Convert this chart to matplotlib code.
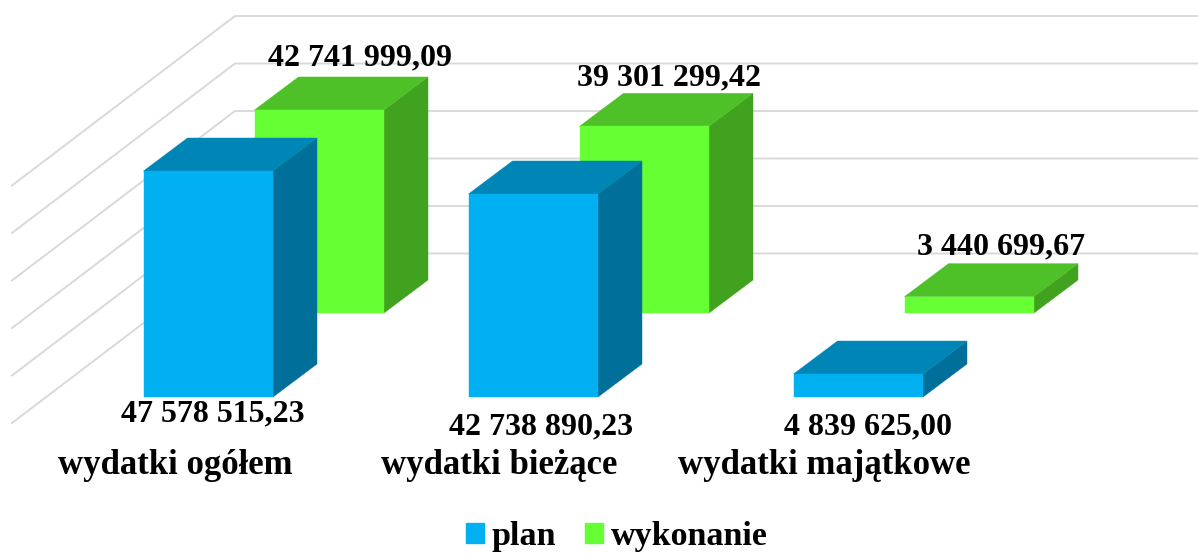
import matplotlib.pyplot as plt
from matplotlib.patches import Polygon, Patch

plt.rcParams['font.family'] = ['Liberation Serif', 'DejaVu Serif']

# dane
categories = ['wydatki ogółem', 'wydatki bieżące', 'wydatki majątkowe']
series_names = ['plan', 'wykonanie']
plan = [47578515.23, 42738890.23, 4839625.00]
wykonanie = [42741999.09, 39301299.42, 3440699.67]
plan_labels = ['47 578 515,23', '42 738 890,23', '4 839 625,00']
wykonanie_labels = ['42 741 999,09', '39 301 299,42', '3 440 699,67']
grid_values = [0, 10000000, 20000000, 30000000, 40000000, 50000000]

# pseudo 3D w pikselach
PX_PER_UNIT = 4.75 / 1e6
GROUP_STEP = 325
BAR_W = 129.5
DEPTH_X, DEPTH_Y = 44, 33


def val_y(value, base):
    return base - value * PX_PER_UNIT


def draw_bar(ax, x, value, base, front, top, side):
    y0 = base
    y1 = val_y(value, base)
    faces = [
        ([(x + BAR_W, y0), (x + BAR_W + DEPTH_X, y0 - DEPTH_Y),
          (x + BAR_W + DEPTH_X, y1 - DEPTH_Y), (x + BAR_W, y1)], side),
        ([(x, y1), (x + BAR_W, y1), (x + BAR_W + DEPTH_X, y1 - DEPTH_Y),
          (x + DEPTH_X, y1 - DEPTH_Y)], top),
        ([(x, y0), (x + BAR_W, y0), (x + BAR_W, y1), (x, y1)], front),
    ]
    for pts, color in faces:
        ax.add_patch(Polygon(pts, closed=True, facecolor=color, edgecolor=color,
                             linewidth=0.3, zorder=3))


fig = plt.figure(figsize=(11.98, 5.54), dpi=100)
ax = fig.add_axes([0, 0, 1, 1])
ax.set_xlim(0, 1198)
ax.set_ylim(554, 0)
ax.axis('off')

# siatka: sciana tylna i boczna
for g in grid_values:
    y_back = val_y(g, 253.5)
    y_left = val_y(g, 423)
    ax.plot([12, 235, 1198], [y_left, y_back, y_back], color='#D9D9D9', linewidth=1.4,
            solid_joinstyle='miter', zorder=1)

for i in range(3):
    x_green = 254.5 + i * GROUP_STEP
    draw_bar(ax, x_green, wykonanie[i], 313, '#66FF33', '#4FC128', '#41A21F')
for i in range(3):
    x_blue = 143.5 + i * GROUP_STEP
    draw_bar(ax, x_blue, plan[i], 397, '#00B0F0', '#0086B6', '#00709A')

# etykiety
plan_pos = [(213, 414), (541, 427), (868, 427)]
wyk_pos = [(360, 58), (669, 78), (1001, 247)]
cat_x = [175, 499, 824]
for i in range(3):
    ax.text(plan_pos[i][0], plan_pos[i][1], plan_labels[i], fontsize=23, fontweight='bold',
            ha='center', va='center', zorder=5)
    ax.text(wyk_pos[i][0], wyk_pos[i][1], wykonanie_labels[i], fontsize=23, fontweight='bold',
            ha='center', va='center', zorder=5)
    ax.text(cat_x[i], 465, categories[i], fontsize=25, fontweight='bold',
            ha='center', va='center', zorder=5)

handles = [Patch(color='#00B0F0', label=series_names[0]),
           Patch(color='#66FF33', label=series_names[1])]
ax.legend(handles=handles, loc='center', bbox_to_anchor=(0.515, 0.031), ncol=2, frameon=False,
          prop={'size': 24.5, 'weight': 'bold'}, handlelength=0.52, handleheight=0.52,
          handletextpad=0.23, columnspacing=0.84, borderpad=0, borderaxespad=0)

fig.savefig('out.png', dpi=100)
